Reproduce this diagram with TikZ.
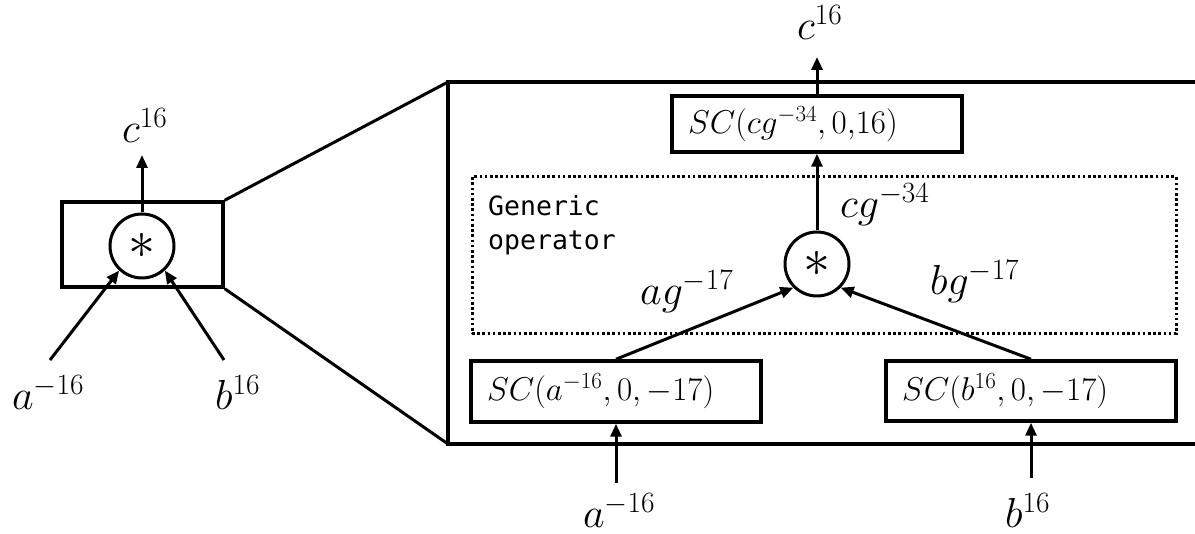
\RequirePackage{fix-cm}
\documentclass[tikz,border=0pt]{standalone}
\usepackage{fontspec}
\newfontfamily\codefont{DejaVu Sans Mono}
\usetikzlibrary{arrows.meta}
\begin{document}
\begin{tikzpicture}[x=1pt,y=-1pt,
  lbl/.style={inner sep=0pt, anchor=base west, font=\fontsize{42}{50}\selectfont},
  scbox/.style={draw, line width=3.5pt, text width=258pt, inner xsep=16pt, inner ysep=0pt,
                align=left, font=\fontsize{33}{40}\selectfont},
  opc/.style={draw, circle, line width=3pt, minimum size=64pt, inner sep=0pt,
              font=\fontsize{54}{60}\selectfont},
  arr/.style={line width=3pt, -{Triangle[length=13pt,width=11pt]}},
  plainline/.style={line width=3pt},
  dotbox/.style={draw, line width=3pt, dash pattern=on 2.6pt off 2.6pt, inner sep=0pt},
  codetext/.style={inner sep=0pt, anchor=north west, align=left,
                   font=\codefont\fontsize{26.5}{34}\selectfont}
]
\useasboundingbox (0,0) rectangle (1195,534);

% ---------- left: compact operator ----------
\node[draw, line width=3.5pt, minimum width=161pt, minimum height=85pt, inner sep=0pt] (lbox) at (142.5,244.5) {};
\node[opc] (lop) at (142,246) {\raisebox{-6pt}{$\ast$}};
\coordinate (lc) at (142,155);
\coordinate (la) at (50,360);
\coordinate (lb) at (224,360);
\draw[arr] (lop.north) -- (lc);
\draw[arr] (la) -- (lop.227);
\draw[arr] (lb) -- (lop.313);
\node[lbl] (lclbl) at (122,143) {$c^{16}$};
\node[lbl] (lalbl) at (12,410) {$a^{-16}$};
\node[lbl] (lblbl) at (215,410) {$b^{16}$};

% ---------- zoom lines and expanded frame ----------
\coordinate (bigTL) at (448,82);
\coordinate (bigBL) at (448,444);
\coordinate (bigTR) at (1200,82);
\coordinate (bigBR) at (1200,444);
\draw[plainline] (lbox.north east) -- (bigTL);
\draw[plainline] (lbox.south east) -- (bigBL);
\draw[line width=4pt, line join=miter] (bigTR) -- (bigTL) -- (bigBL) -- (bigBR);

% ---------- right: expanded operator ----------
\node[dotbox, minimum width=704pt, minimum height=157pt] (gen) at (824,255.5) {};
\node[codetext] (gentext) at (488,195) {Generic\\operator};

\node[scbox, minimum height=56pt] (top) at (817,124) {$SC(cg^{-34},0{,}16)$};
\node[scbox, minimum height=61pt] (abox) at (616,391.5) {$SC(a^{-16},0,-17)$};
\node[scbox, minimum height=60pt] (bbox) at (1031,391) {$SC(b^{16},0,-17)$};
\node[opc] (rop) at (817,264) {\raisebox{-6pt}{$\ast$}};

\coordinate (rc) at (817,57);
\coordinate (ra) at (616,483);
\coordinate (rb) at (1031,478);
\draw[arr] (top.north) -- (rc);
\draw[arr] (rop.north) -- (top.south);
\draw[arr] (abox.north) -- (rop.225);
\draw[arr] (bbox.north) -- (rop.315);
\draw[arr] (ra) -- (abox.south);
\draw[arr] (rb) -- (bbox.south);

\node[lbl] (rclbl) at (797,40) {$c^{16}$};
\node[lbl] (cglbl) at (840,218) {$cg^{-34}$};
\node[lbl] (aglbl) at (640,305) {$ag^{-17}$};
\node[lbl] (bglbl) at (930,295) {$bg^{-17}$};
\node[lbl] (ralbl) at (583,528) {$a^{-16}$};
\node[lbl] (rblbl) at (1005,528) {$b^{16}$};
\end{tikzpicture}
\end{document}
